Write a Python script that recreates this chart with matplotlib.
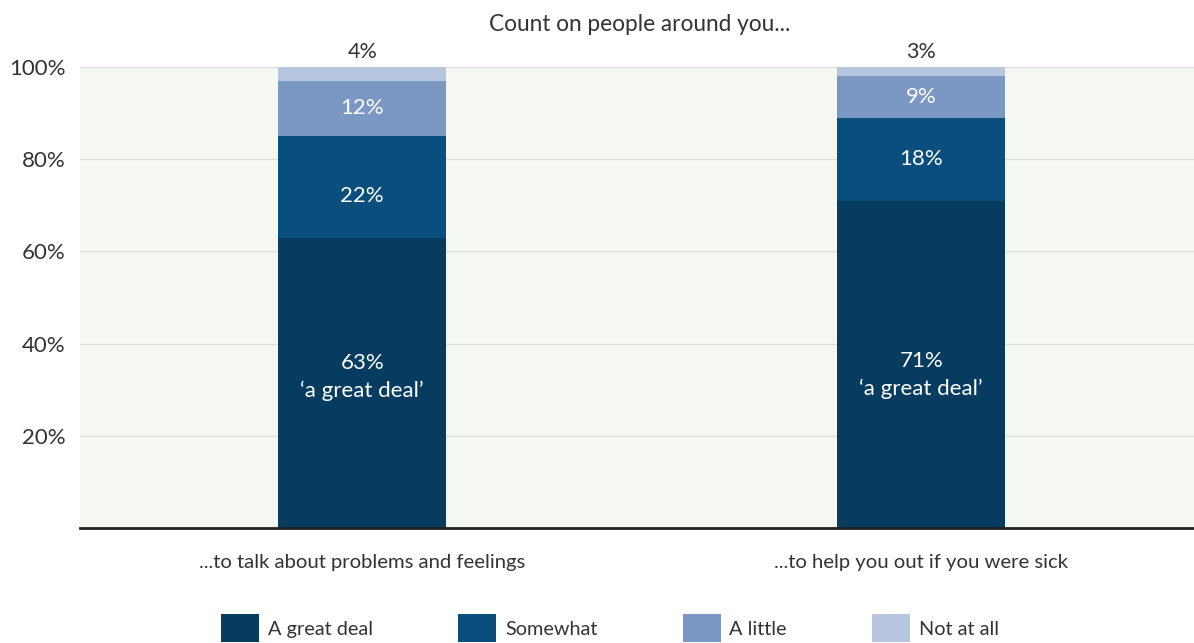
import matplotlib
matplotlib.use("Agg")
import matplotlib.pyplot as plt
from matplotlib.patches import Patch
import numpy as np

plt.rcParams['font.family'] = ['Lato', 'DejaVu Sans']

categories = ["...to talk about problems and feelings", "...to help you out if you were sick"]
series = ["A great deal", "Somewhat", "A little", "Not at all"]
great_deal = [63, 71]
somewhat = [22, 18]
a_little = [12, 9]
not_at_all = [4, 3]
yticks = [20, 40, 60, 80, 100]
ytick_labels = ["20%", "40%", "60%", "80%", "100%"]
title = "Count on people around you..."

colors = ["#073C61", "#094E7C", "#7B98C3", "#B8C5DF"]
text_dark = "#333333"
# small vertical nudges (data units) for inside labels, per series and bar
label_nudge = {"A great deal": [1.3, -2.3], "Somewhat": [-2.0, 0.0], "A little": [0.0, 0.0]}

fig = plt.figure(figsize=(11.94, 6.43), dpi=100)
ax = fig.add_axes([0.067, 0.1788, 0.933, 0.717])
ax.set_facecolor("#F5F8F2")

x = np.arange(len(categories))
width = 0.30
values = [great_deal, somewhat, a_little, not_at_all]
bottom = np.zeros(len(categories))
for vals, col, name in zip(values, colors, series):
    ax.bar(x, vals, width, bottom=bottom, color=col, label=name, zorder=3)
    for i, v in enumerate(vals):
        if name == "Not at all":
            ax.text(x[i], 100 + 1.0, f"{v}%", ha="center", va="bottom",
                    fontsize=15.5, color=text_dark, clip_on=False)
        elif name == "A great deal":
            ax.text(x[i], bottom[i] + v / 2 + label_nudge[name][i], f"{v}%\n‘a great deal’",
                    ha="center", va="center", fontsize=16, color="white",
                    linespacing=1.45, zorder=4)
        else:
            ax.text(x[i], bottom[i] + v / 2 + label_nudge[name][i], f"{v}%", ha="center",
                    va="center", fontsize=16, color="white", zorder=4)
    bottom = bottom + np.array(vals)

ax.set_ylim(0, 100)
ax.set_xlim(-0.505, 1.488)
ax.set_yticks(yticks)
ax.set_yticklabels(ytick_labels, fontsize=16, color=text_dark)
ax.set_xticks(x)
ax.set_xticklabels(categories, fontsize=14.6, color=text_dark)
ax.tick_params(axis="both", length=0)
ax.tick_params(axis="x", pad=19)
ax.tick_params(axis="y", pad=10.5)
ax.yaxis.grid(True, color="#DDDDDD", linewidth=1, zorder=0)
for s in ["top", "right", "left"]:
    ax.spines[s].set_visible(False)
ax.spines["bottom"].set_color("#222222")
ax.spines["bottom"].set_linewidth(2)
ax.spines["bottom"].set_zorder(5)

fig.text(0.536, 0.962, title, ha="center", va="center", fontsize=16.3, color=text_dark)

handles = [Patch(facecolor=c, edgecolor="none", label=n) for c, n in zip(colors, series)]
fig.legend(handles=handles, loc="center", bbox_to_anchor=(0.511, 0.023), ncol=4,
           frameon=False, fontsize=14.3, handlelength=1.9, handleheight=1.75,
           handletextpad=0.45, columnspacing=4.3, labelcolor=text_dark)

fig.savefig("out.png", dpi=100)
